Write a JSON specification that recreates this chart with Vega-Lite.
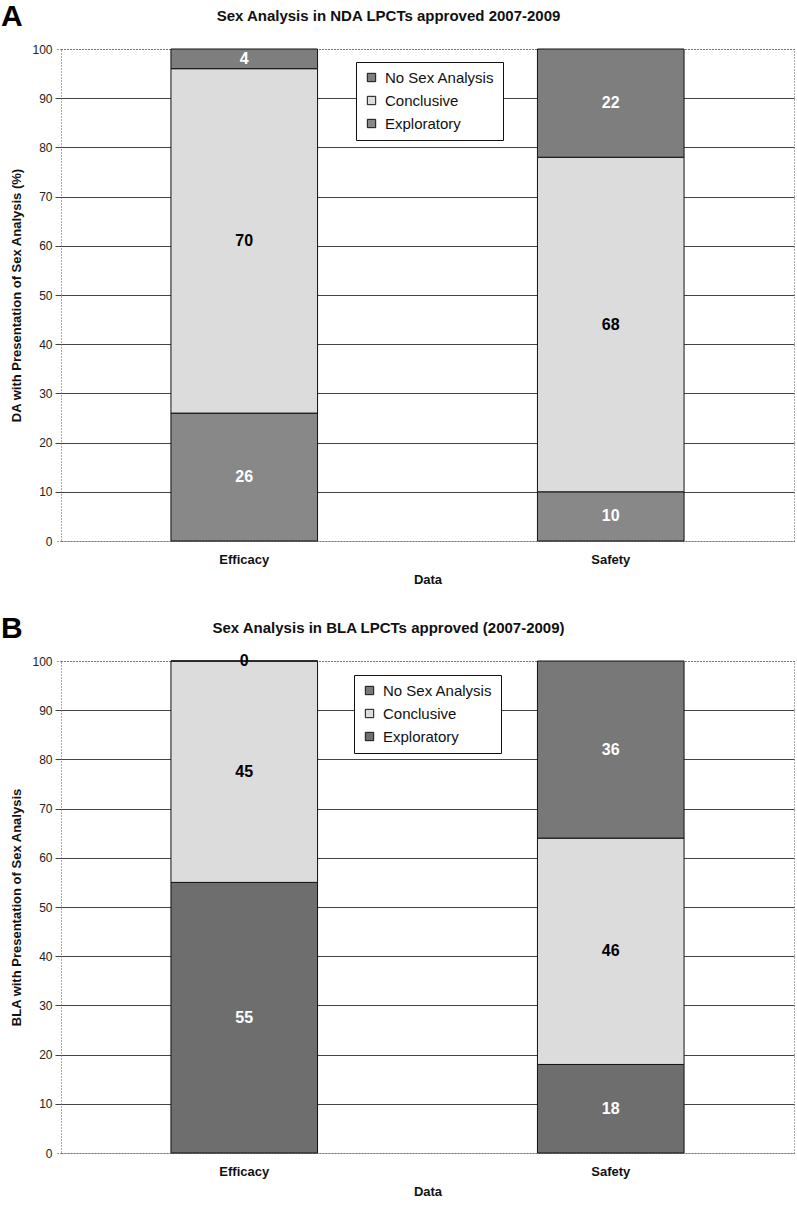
{
  "$schema": "https://vega.github.io/schema/vega-lite/v6.json",
  "padding": {"left": 0, "top": 1, "right": 2, "bottom": 0},
  "background": "white",
  "config": {
    "font": "Liberation Sans",
    "view": {"stroke": "#555555", "strokeDash": [1, 2], "strokeWidth": 1},
    "axisY": {
      "grid": true,
      "gridColor": "#444444",
      "gridWidth": 1.2,
      "gridDash": {"condition": {"test": "datum.value === 0 || datum.value === 100", "value": [1, 2]}, "value": []},
      "tickColor": "#444444",
      "tickSize": 6,
      "tickDash": {"condition": {"test": "datum.value === 0 || datum.value === 100", "value": [1, 2]}, "value": []},
      "domain": false,
      "labelFontSize": 12,
      "labelColor": "#222222",
      "labelPadding": 3,
      "titleFontSize": 13,
      "titleFontWeight": "bold",
      "titleColor": "#111111",
      "titlePadding": 8,
      "values": [0, 10, 20, 30, 40, 50, 60, 70, 80, 90, 100]
    },
    "legend": {
      "orient": "none",
      "legendX": 295,
      "legendY": 13,
      "title": null,
      "strokeColor": "#111111",
      "fillColor": "white",
      "padding": 8,
      "symbolType": "square",
      "symbolSize": 70,
      "symbolStrokeColor": "#111111",
      "symbolStrokeWidth": 1,
      "labelFontSize": 15,
      "labelColor": "#111111",
      "rowPadding": 7,
      "labelOffset": 6
    }
  },
  "resolve": {"scale": {"color": "independent"}, "legend": {"color": "independent"}},
  "spacing": 26,
  "vconcat": [
    {
      "title": {"text": "A", "anchor": "start", "frame": "bounds", "fontSize": 30, "fontWeight": "bold", "color": "#000000", "offset": -24, "dx": -10},
      "width": 733,
      "height": 492,
      "data": {"values": [
        {"data": "Efficacy", "cat": "Exploratory", "value": 26},
        {"data": "Efficacy", "cat": "Conclusive", "value": 70},
        {"data": "Efficacy", "cat": "No Sex Analysis", "value": 4},
        {"data": "Safety", "cat": "Exploratory", "value": 10},
        {"data": "Safety", "cat": "Conclusive", "value": 68},
        {"data": "Safety", "cat": "No Sex Analysis", "value": 22}
      ]},
      "transform": [
        {"calculate": "indexof(['Exploratory','Conclusive','No Sex Analysis'], datum.cat)", "as": "ord"},
        {"stack": "value", "groupby": ["data"], "sort": [{"field": "ord", "order": "ascending"}], "as": ["y0", "y1"]},
        {"calculate": "(datum.y0 + datum.y1) / 2", "as": "ymid"}
      ],
      "resolve": {"axis": {"x": "independent"}},
      "layer": [
        {
          "mark": {"type": "bar", "stroke": "#111111", "strokeWidth": 1},
          "encoding": {
            "x": {"field": "data", "type": "nominal", "scale": {"paddingInner": 0.6, "paddingOuter": 0.3},
              "axis": {"title": "Data", "labelAngle": 0, "domain": false, "ticks": false, "labelFontSize": 13, "labelFontWeight": "bold", "labelColor": "#111111", "labelPadding": 12, "titleFontSize": 13, "titleFontWeight": "bold", "titleColor": "#111111", "titlePadding": 7}},
            "y": {"field": "y0", "type": "quantitative", "scale": {"domain": [0, 100], "nice": false},
              "axis": {"title": "DA with Presentation of Sex Analysis  (%)"}},
            "y2": {"field": "y1"},
            "color": {"field": "cat", "type": "nominal",
              "scale": {"domain": ["No Sex Analysis", "Conclusive", "Exploratory"], "range": ["#7e7e7e", "#dcdcdc", "#888888"]},
              "legend": {}}
          }
        },
        {
          "mark": {"type": "text", "fontSize": 16, "fontWeight": "bold", "baseline": "middle"},
          "encoding": {
            "x": {"field": "data", "type": "nominal",
              "axis": {"orient": "top", "title": "Sex Analysis in NDA LPCTs approved 2007-2009", "labels": false, "ticks": false, "domain": false, "titleFontSize": 15, "titleFontWeight": "bold", "titleColor": "#111111", "titlePadding": 26, "titleX": 327}},
            "y": {"field": "ymid", "type": "quantitative"},
            "text": {"field": "value", "type": "quantitative"},
            "color": {"condition": {"test": "datum.cat === 'Conclusive' || datum.value === 0", "value": "#000000"}, "value": "#ffffff"}
          }
        }
      ]
    },
    {
      "title": {"text": "B", "anchor": "start", "frame": "bounds", "fontSize": 30, "fontWeight": "bold", "color": "#000000", "offset": -24, "dx": -10},
      "width": 733,
      "height": 492,
      "data": {"values": [
        {"data": "Efficacy", "cat": "Exploratory", "value": 55},
        {"data": "Efficacy", "cat": "Conclusive", "value": 45},
        {"data": "Efficacy", "cat": "No Sex Analysis", "value": 0},
        {"data": "Safety", "cat": "Exploratory", "value": 18},
        {"data": "Safety", "cat": "Conclusive", "value": 46},
        {"data": "Safety", "cat": "No Sex Analysis", "value": 36}
      ]},
      "transform": [
        {"calculate": "indexof(['Exploratory','Conclusive','No Sex Analysis'], datum.cat)", "as": "ord"},
        {"stack": "value", "groupby": ["data"], "sort": [{"field": "ord", "order": "ascending"}], "as": ["y0", "y1"]},
        {"calculate": "(datum.y0 + datum.y1) / 2", "as": "ymid"}
      ],
      "resolve": {"axis": {"x": "independent"}},
      "layer": [
        {
          "mark": {"type": "bar", "stroke": "#111111", "strokeWidth": 1},
          "encoding": {
            "x": {"field": "data", "type": "nominal", "scale": {"paddingInner": 0.6, "paddingOuter": 0.3},
              "axis": {"title": "Data", "labelAngle": 0, "domain": false, "ticks": false, "labelFontSize": 13, "labelFontWeight": "bold", "labelColor": "#111111", "labelPadding": 12, "titleFontSize": 13, "titleFontWeight": "bold", "titleColor": "#111111", "titlePadding": 7}},
            "y": {"field": "y0", "type": "quantitative", "scale": {"domain": [0, 100], "nice": false},
              "axis": {"title": "BLA with Presentation of Sex Analysis"}},
            "y2": {"field": "y1"},
            "color": {"field": "cat", "type": "nominal",
              "scale": {"domain": ["No Sex Analysis", "Conclusive", "Exploratory"], "range": ["#787878", "#dcdcdc", "#6e6e6e"]},
              "legend": {"legendX": 293, "legendY": 14}}
          }
        },
        {
          "mark": {"type": "text", "fontSize": 16, "fontWeight": "bold", "baseline": "middle"},
          "encoding": {
            "x": {"field": "data", "type": "nominal",
              "axis": {"orient": "top", "title": "Sex Analysis in BLA LPCTs approved (2007-2009)", "labels": false, "ticks": false, "domain": false, "titleFontSize": 15, "titleFontWeight": "bold", "titleColor": "#111111", "titlePadding": 26, "titleX": 327}},
            "y": {"field": "ymid", "type": "quantitative"},
            "text": {"field": "value", "type": "quantitative"},
            "color": {"condition": {"test": "datum.cat === 'Conclusive' || datum.value === 0", "value": "#000000"}, "value": "#ffffff"}
          }
        }
      ]
    }
  ]
}
